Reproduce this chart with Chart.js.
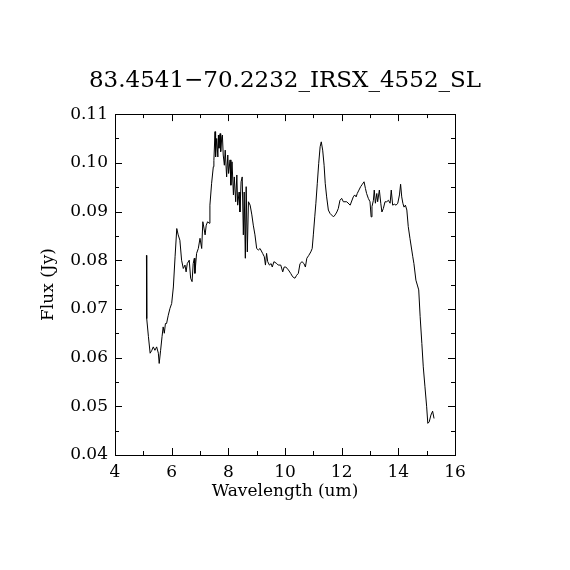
<!DOCTYPE html>
<html>
<head>
<meta charset="utf-8">
<script src="https://cdn.jsdelivr.net/npm/chart.js@4.4.0/dist/chart.umd.min.js"></script>
<style>
  html, body { margin: 0; padding: 0; background: #fff; }
  #wrap { width: 570px; height: 570px; }
</style>
</head>
<body>
<div id="wrap"><canvas id="c" width="570" height="570"></canvas></div>
<script>
// spectrum (wavelength in um, flux in Jy)
const wavelength = [
  5.11, 5.12, 5.18, 5.24, 5.30, 5.35, 5.41, 5.47, 5.53, 5.56, 5.61, 5.66, 5.70, 5.74, 5.78, 5.82,
  5.88, 5.94, 6.00, 6.06, 6.12, 6.18, 6.23, 6.29, 6.35, 6.41, 6.47, 6.51, 6.55, 6.62, 6.67, 6.72,
  6.76, 6.80, 6.82, 6.88, 6.94, 7.00, 7.06, 7.10, 7.14, 7.18, 7.22, 7.27, 7.32, 7.35, 7.41, 7.47,
  7.49, 7.53, 7.55, 7.59, 7.63, 7.65, 7.67, 7.71, 7.73, 7.77, 7.79, 7.82, 7.86, 7.89, 7.94, 7.98,
  8.01, 8.06, 8.09, 8.13, 8.18, 8.21, 8.26, 8.30, 8.33, 8.38, 8.41, 8.45, 8.49, 8.53, 8.56, 8.60,
  8.63, 8.67, 8.71, 8.77, 8.83, 8.88, 8.94, 9.00, 9.06, 9.12, 9.21, 9.27, 9.31, 9.35, 9.39, 9.45,
  9.51, 9.55, 9.61, 9.71, 9.76, 9.85, 9.92, 9.97, 10.03, 10.12, 10.20, 10.27, 10.35, 10.41, 10.47,
  10.53, 10.60, 10.67, 10.72, 10.77, 10.84, 10.91, 10.96, 11.00, 11.05, 11.09, 11.14, 11.19, 11.24,
  11.28, 11.33, 11.38, 11.42, 11.47, 11.53, 11.59, 11.71, 11.77, 11.83, 11.88, 11.94, 12.00, 12.06,
  12.18, 12.30, 12.41, 12.46, 12.51, 12.55, 12.61, 12.67, 12.73, 12.79, 12.84, 12.88, 12.94, 13.00,
  13.04, 13.07, 13.12, 13.15, 13.19, 13.24, 13.27, 13.33, 13.38, 13.42, 13.47, 13.53, 13.59, 13.65,
  13.71, 13.75, 13.80, 13.86, 13.92, 13.98, 14.04, 14.08, 14.12, 14.16, 14.20, 14.25, 14.30, 14.35,
  14.41, 14.51, 14.55, 14.62, 14.67, 14.72, 14.77, 14.83, 14.88, 14.94, 15.00, 15.04, 15.09, 15.15,
  15.21, 15.26
];
const flux = [
  0.0810, 0.0680, 0.0643, 0.0609, 0.0615, 0.0622, 0.0615, 0.0622, 0.0609, 0.0588, 0.0615, 0.0643, 0.0663, 0.0650, 0.0670, 0.0670,
  0.0687, 0.0701, 0.0711, 0.0745, 0.0807, 0.0865, 0.0852, 0.0841, 0.0800, 0.0783, 0.0790, 0.0776, 0.0793, 0.0800, 0.0763, 0.0756,
  0.0793, 0.0804, 0.0773, 0.0814, 0.0824, 0.0845, 0.0824, 0.0879, 0.0866, 0.0852, 0.0872, 0.0879, 0.0876, 0.0913, 0.0958, 0.0992,
  0.1005, 0.1064, 0.1012, 0.1050, 0.1012, 0.1057, 0.1030, 0.1060, 0.1023, 0.1053, 0.1057, 0.1016, 0.0995, 0.1026, 0.0971, 0.1016,
  0.0978, 0.1006, 0.0954, 0.1002, 0.0934, 0.0971, 0.0920, 0.0975, 0.0913, 0.0940, 0.0899, 0.0961, 0.0971, 0.0852, 0.0940, 0.0804,
  0.0951, 0.0817, 0.0920, 0.0913, 0.0893, 0.0872, 0.0852, 0.0824, 0.0821, 0.0824, 0.0814, 0.0807, 0.0790, 0.0814, 0.0797, 0.0790,
  0.0793, 0.0786, 0.0797, 0.0793, 0.0790, 0.0790, 0.0776, 0.0786, 0.0786, 0.0780, 0.0773, 0.0766, 0.0763, 0.0769, 0.0773,
  0.0793, 0.0797, 0.0793, 0.0786, 0.0804, 0.0810, 0.0817, 0.0824, 0.0852, 0.0889, 0.0917, 0.0958, 0.0999, 0.1033,
  0.1043, 0.1026, 0.0995, 0.0958, 0.0930, 0.0903, 0.0896, 0.0889, 0.0893, 0.0899, 0.0906, 0.0923, 0.0927, 0.0920,
  0.0920, 0.0913, 0.0930, 0.0934, 0.0930, 0.0937, 0.0944, 0.0951, 0.0956, 0.0961, 0.0947, 0.0937, 0.0927, 0.0920,
  0.0889, 0.0910, 0.0923, 0.0944, 0.0917, 0.0937, 0.0920, 0.0944, 0.0917, 0.0899, 0.0906, 0.0920, 0.0920, 0.0923,
  0.0917, 0.0944, 0.0913, 0.0915, 0.0913, 0.0917, 0.0934, 0.0956, 0.0930, 0.0917, 0.0909, 0.0913, 0.0903, 0.0869,
  0.0845, 0.0807, 0.0793, 0.0759, 0.0749, 0.0739, 0.0684, 0.0629, 0.0581, 0.0540, 0.0499, 0.0465, 0.0468, 0.0482,
  0.0490, 0.0475
];
const xTicks = [4, 6, 8, 10, 12, 14, 16];
const yTicks = [0.04, 0.05, 0.06, 0.07, 0.08, 0.09, 0.10, 0.11];
const xMinor = [5, 7, 9, 11, 13, 15];
const yMinor = [0.045, 0.055, 0.065, 0.075, 0.085, 0.095, 0.105];

const serif = 'DejaVu Serif';

// box round the plot with inward ticks on all four sides
const frameTicks = {
  id: 'frameTicks',
  afterDatasetsDraw(chart) {
    const { ctx, chartArea: a, scales: { x, y } } = chart;
    ctx.save();
    ctx.strokeStyle = '#000';
    ctx.lineWidth = 1;
    ctx.strokeRect(Math.round(a.left) + 0.5, Math.round(a.top) + 0.5,
      Math.round(a.right - a.left), Math.round(a.bottom - a.top));
    ctx.beginPath();
    const xt = (v, len) => {
      const px = Math.round(x.getPixelForValue(v)) + 0.5;
      ctx.moveTo(px, a.bottom); ctx.lineTo(px, a.bottom - len);
      ctx.moveTo(px, a.top); ctx.lineTo(px, a.top + len);
    };
    const yt = (v, len) => {
      const py = Math.round(y.getPixelForValue(v)) + 0.5;
      ctx.moveTo(a.left, py); ctx.lineTo(a.left + len, py);
      ctx.moveTo(a.right, py); ctx.lineTo(a.right - len, py);
    };
    xTicks.forEach(v => xt(v, 7));
    xMinor.forEach(v => xt(v, 4));
    yTicks.forEach(v => yt(v, 7));
    yMinor.forEach(v => yt(v, 4));
    ctx.stroke();
    ctx.restore();
  }
};

new Chart(document.getElementById('c'), {
  type: 'line',
  data: {
    datasets: [{
      data: wavelength.map((w, i) => ({ x: w, y: flux[i] })),
      borderColor: '#000',
      borderWidth: 1,
      pointRadius: 0,
      tension: 0,
      fill: false,
    }],
  },
  options: {
    responsive: false,
    animation: false,
    devicePixelRatio: 1,
    layout: { padding: 0 },
    plugins: {
      legend: { display: false },
      tooltip: { enabled: false },
      title: {
        display: true,
        text: '83.4541\u221270.2232_IRSX_4552_SL',
        color: '#000',
        font: { family: serif, size: 23, weight: 'normal' },
        padding: { top: 67, bottom: 19.5 },
      },
    },
    scales: {
      x: {
        type: 'linear',
        min: 4, max: 16,
        afterFit: s => { s.height = 115; },
        afterBuildTicks: s => { s.ticks = xTicks.map(v => ({ value: v })); },
        grid: { display: false, drawTicks: false },
        border: { display: false },
        ticks: {
          color: '#000', padding: 7, maxRotation: 0, autoSkip: false,
          font: { family: serif, size: 17 },
          callback: v => String(v),
        },
        title: {
          display: true, text: 'Wavelength (um)', color: '#000',
          font: { family: serif, size: 17 },
          padding: { top: 0, bottom: 68 },
        },
      },
      y: {
        type: 'linear',
        min: 0.04, max: 0.11,
        afterFit: s => { s.width = 115; },
        afterBuildTicks: s => { s.ticks = yTicks.map(v => ({ value: v })); },
        grid: { display: false, drawTicks: false },
        border: { display: false },
        ticks: {
          color: '#000', padding: 7, autoSkip: false,
          font: { family: serif, size: 17 },
          callback: v => v.toFixed(2),
        },
        title: {
          display: true, text: 'Flux (Jy)', color: '#000',
          font: { family: serif, size: 17 },
          padding: { top: 38, bottom: 0 },
        },
      },
      // empty right-hand box so the plot sits where the reference has it
      yRight: {
        type: 'linear',
        position: 'right',
        min: 0.04, max: 0.11,
        afterFit: s => { s.width = 115; },
        grid: { display: false, drawTicks: false },
        border: { display: false },
        ticks: { display: false },
      },
    },
  },
  plugins: [frameTicks],
});
</script>
</body>
</html>
